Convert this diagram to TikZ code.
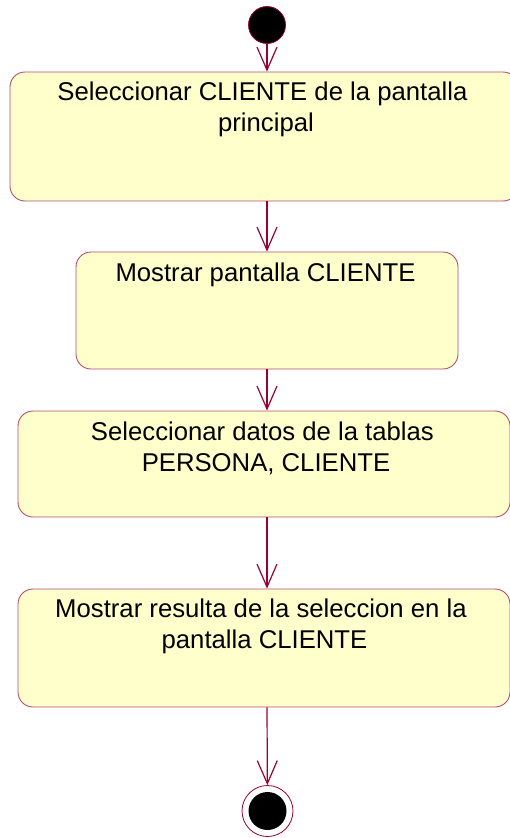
\documentclass[tikz,border=0pt]{standalone}
\usepackage{fontspec}
\setmainfont{Liberation Sans}
\usetikzlibrary{arrows.meta, positioning, shapes.geometric, calc}

\definecolor{umlline}{RGB}{153,0,51}
\definecolor{umlfill}{RGB}{255,255,204}

% trailing blank left by the line wrap
\newcommand{\wrapgap}{\hspace*{0.278em}}

\begin{document}
\begin{tikzpicture}[
    x=1pt, y=-1pt,
    act/.style={rectangle, draw=umlline!70, fill=umlfill,
                rounded corners=15pt, line width=0.9pt,
                minimum width=#1, inner sep=0pt},
    acttxt/.style={font=\fontsize{25.7}{31.5}\selectfont, align=center,
                   inner sep=0pt, anchor=north, yshift=-10pt, xshift=2pt},
    startdot/.style={circle, fill=black, draw=umlline, line width=0.8pt,
                     minimum size=37pt, inner sep=0pt},
    enddot/.style={circle, draw=umlline, line width=0.8pt, fill=white,
                   minimum size=51pt, inner sep=0pt},
    arr/.style={-{Straight Barb[length=23pt, width=20pt]},
                line width=1.2pt, draw=umlline},
]

% --- fixed frame ---
\useasboundingbox (0,0) rectangle (510,838);
\clip (0,0) rectangle (510,838);

% --- start / end ---
\node (start) [startdot] at (267, 25) {};
\node (fin) [enddot] at (267.5, 811) {};
\node (finin) [startdot, draw=none, minimum size=38pt] at (fin) {};

% --- activities ---
\node (sel) [act=508pt, minimum height=129pt,
    label={[acttxt]north:Seleccionar CLIENTE de la pantalla\wrapgap\\principal}]
    at (264, 136.5) {};
\node (mostrar) [act=382pt, minimum height=117pt,
    label={[acttxt, xshift=-3.5pt, yshift=-1pt]north:Mostrar pantalla CLIENTE}]
    at (267, 310.5) {};
\node (datos) [act=492pt, minimum height=106pt,
    label={[acttxt, yshift=-1pt]north:Seleccionar datos de la tablas\wrapgap\\PERSONA, CLIENTE}]
    at (264, 464) {};
\node (result) [act=492pt, minimum height=118pt,
    label={[acttxt, xshift=-1.5pt]north:Mostrar resulta de la seleccion en la\wrapgap\\pantalla CLIENTE}]
    at (264, 648) {};

% --- transitions ---
\draw [arr] (start) -- (start |- sel.north);
\draw [arr] (start |- sel.south) -- (start |- mostrar.north);
\draw [arr] (start |- mostrar.south) -- (start |- datos.north);
\draw [arr] (start |- datos.south) -- (start |- result.north);
\draw [arr] (start |- result.south) -- (fin);

\end{tikzpicture}
\end{document}
